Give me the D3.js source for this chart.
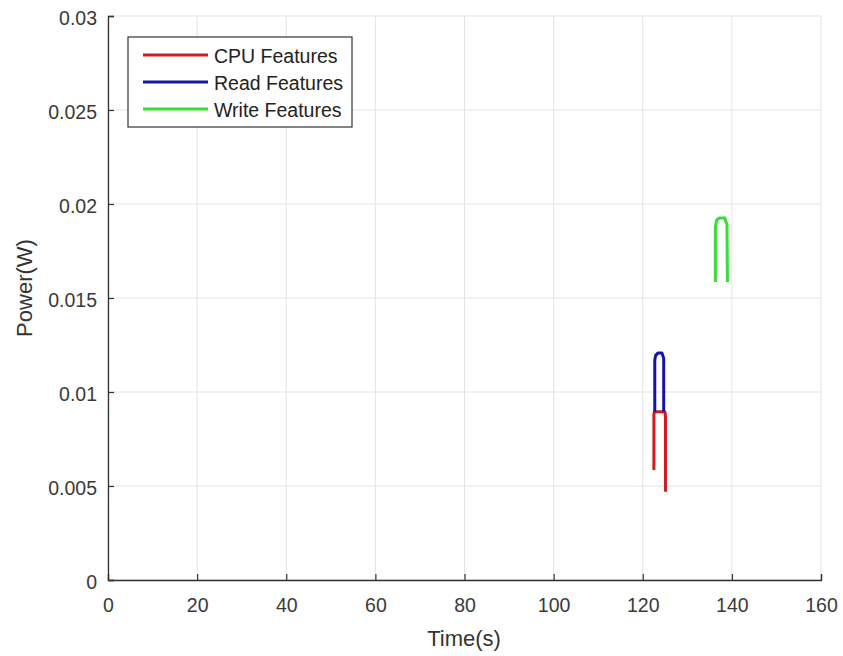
<!DOCTYPE html>
<html>
<head>
<meta charset="utf-8">
<script src="https://cdn.jsdelivr.net/npm/d3@7"></script>
<style>
  html, body { margin: 0; padding: 0; background: #fff; }
  svg { display: block; font-family: "Liberation Sans", Arial, sans-serif; }
</style>
</head>
<body>
<div id="chart"></div>
<script>
// ----- DATA -----
const xTicks = [0, 20, 40, 60, 80, 100, 120, 140, 160];
const yTicks = [0, 0.005, 0.01, 0.015, 0.02, 0.025, 0.03];
const yTickLabels = ["0", "0.005", "0.01", "0.015", "0.02", "0.025", "0.03"];

const seriesNames = ["CPU Features", "Read Features", "Write Features"];
const seriesColors = ["#d01c1c", "#1414a8", "#33e033"];

const cpuTime  = [122.5, 122.5, 122.6, 124.0, 125.0, 125.1, 125.1];
const cpuPower = [0.00585, 0.0088, 0.00895, 0.00895, 0.00893, 0.0087, 0.0047];

const readTime  = [122.7, 122.7, 122.9, 123.4, 124.3, 124.7, 124.7];
const readPower = [0.00895, 0.0117, 0.01195, 0.01207, 0.01207, 0.0118, 0.00895];

const writeTime  = [136.3, 136.3, 136.6, 137.2, 138.4, 138.9, 139.0];
const writePower = [0.01585, 0.0188, 0.01915, 0.01925, 0.01925, 0.0189, 0.01585];

const series = [
    {name: seriesNames[0], color: seriesColors[0], t: cpuTime,   p: cpuPower},
    {name: seriesNames[1], color: seriesColors[1], t: readTime,  p: readPower},
    {name: seriesNames[2], color: seriesColors[2], t: writeTime, p: writePower}
];

// ----- LAYOUT -----
const width = 843, height = 656;
const margin = {left: 108, right: 22, top: 16, bottom: 76};
const plotW = width - margin.left - margin.right;
const plotH = height - margin.top - margin.bottom;

const svg = d3.select("#chart").append("svg")
    .attr("width", width)
    .attr("height", height);

const g = svg.append("g")
    .attr("transform", `translate(${margin.left},${margin.top})`);

const x = d3.scaleLinear().domain([0, 160]).range([0, plotW]);
const y = d3.scaleLinear().domain([0, 0.03]).range([plotH, 0]);

// grid
g.append("g").selectAll("line").data(xTicks).join("line")
    .attr("x1", d => x(d)).attr("x2", d => x(d))
    .attr("y1", 0).attr("y2", plotH)
    .attr("stroke", "#e3e3e3").attr("stroke-width", 1);
g.append("g").selectAll("line").data(yTicks).join("line")
    .attr("x1", 0).attr("x2", plotW)
    .attr("y1", d => y(d)).attr("y2", d => y(d))
    .attr("stroke", "#e3e3e3").attr("stroke-width", 1);

// axes (inward ticks, MATLAB style)
const xAxis = d3.axisBottom(x).tickValues(xTicks).tickSize(-6).tickPadding(18);
const yAxis = d3.axisLeft(y).tickValues(yTicks).tickSize(-6).tickPadding(11)
    .tickFormat((d, i) => yTickLabels[i]);

const gx = g.append("g").attr("transform", `translate(0,${plotH})`).call(xAxis);
const gy = g.append("g").call(yAxis);

[gx, gy].forEach(a => {
    a.select(".domain").attr("stroke", "#333").attr("stroke-width", 1.3);
    a.selectAll(".tick line").attr("stroke", "#333").attr("stroke-width", 1.2);
    a.selectAll(".tick text").attr("fill", "#3a3a3a").style("font-size", "19.5px");
});
gy.selectAll(".tick text").attr("dy", "0.42em");

// lines
const line = d3.line().x(d => x(d[0])).y(d => y(d[1]));
series.forEach(s => {
    g.append("path")
        .datum(s.t.map((t, i) => [t, s.p[i]]))
        .attr("fill", "none")
        .attr("stroke", s.color)
        .attr("stroke-width", 3)
        .attr("stroke-linejoin", "round")
        .attr("d", line);
});

// axis labels
svg.append("text")
    .attr("x", 464)
    .attr("y", 646)
    .attr("text-anchor", "middle")
    .attr("fill", "#333")
    .style("font-size", "22px")
    .text("Time(s)");

svg.append("text")
    .attr("transform", `translate(32,288) rotate(-90)`)
    .attr("text-anchor", "middle")
    .attr("fill", "#333")
    .style("font-size", "22px")
    .text("Power(W)");

// legend
const legend = svg.append("g").attr("transform", "translate(128,37)");
legend.append("rect")
    .attr("width", 224).attr("height", 90)
    .attr("fill", "#fff").attr("stroke", "#333").attr("stroke-width", 1.2);
series.forEach((s, i) => {
    const ly = 18 + i * 27;
    legend.append("line")
        .attr("x1", 15).attr("x2", 80)
        .attr("y1", ly).attr("y2", ly)
        .attr("stroke", s.color).attr("stroke-width", 3);
    legend.append("text")
        .attr("x", 86).attr("y", ly + 8)
        .attr("fill", "#222")
        .style("font-size", "19.5px")
        .text(s.name);
});
</script>
</body>
</html>
